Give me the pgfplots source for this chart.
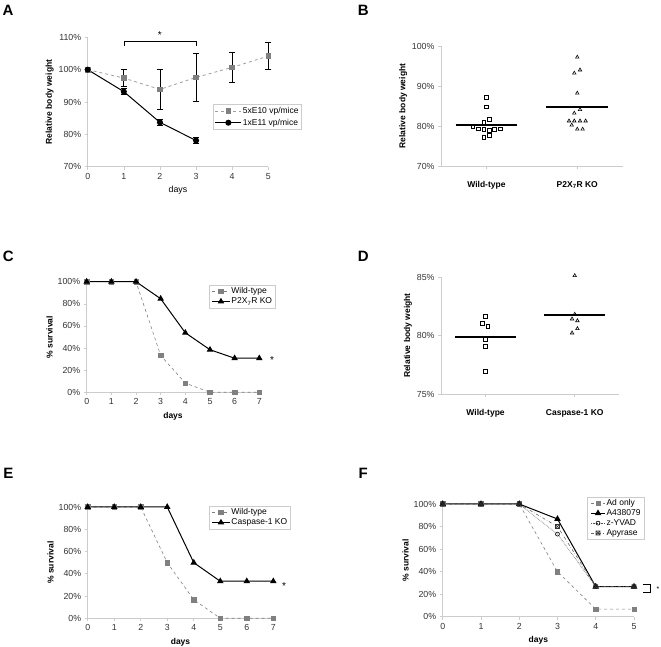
\documentclass[border=0pt]{standalone}
\usepackage{pgfplots}
\pgfplotsset{compat=1.18}
\usepackage{fontspec}
\setmainfont{Liberation Sans}
\definecolor{mgray}{gray}{0.5}
\definecolor{lgray}{gray}{0.62}
\definecolor{axgray}{gray}{0.8}
\pgfdeclareplotmark{boxx}{%
  \pgfpathrectangle{\pgfpoint{-\pgfplotmarksize}{-\pgfplotmarksize}}{\pgfpoint{2\pgfplotmarksize}{2\pgfplotmarksize}}%
  \pgfpathmoveto{\pgfpoint{-\pgfplotmarksize}{-\pgfplotmarksize}}\pgfpathlineto{\pgfpoint{\pgfplotmarksize}{\pgfplotmarksize}}%
  \pgfpathmoveto{\pgfpoint{-\pgfplotmarksize}{\pgfplotmarksize}}\pgfpathlineto{\pgfpoint{\pgfplotmarksize}{-\pgfplotmarksize}}%
  \pgfusepathqstroke}
\pgfplotsset{
  panel/.style={
    scale only axis, anchor=south west,
    axis x line*=bottom, axis y line*=left,
    axis line style={draw=axgray, line width=0.7pt},
    tick style={draw=axgray, line width=0.6pt},
    tick align=outside, major tick length=3pt,
    tick label style={font=\fontsize{8.8}{10}\selectfont, text=black!80},
    label style={font=\fontsize{8.5}{10}\selectfont\bfseries},
    ylabel style={yshift=-2pt},
    /pgf/number format/assume math mode=true,
    clip=false,
    legend cell align=left,
    legend style={draw=axgray, fill=white, font=\fontsize{8.5}{10}\selectfont, inner xsep=2pt, inner ysep=1.5pt, row sep=0.5pt, nodes={inner sep=1pt}},
  },
  legimg/.style={legend image code/.code={\draw[mark repeat=2,mark phase=2,##1] plot coordinates {(0pt,0pt) (#1,0pt) (2*#1,0pt)};}},
}
\begin{document}
\begin{tikzpicture}
\path[use as bounding box] (0,0) rectangle (661pt,647pt);
% panel labels
\foreach \l/\x/\y in {A/8/637, B/363.3/637, C/8.3/390.3, D/363.3/390.3, E/8.3/173.7, F/363.3/173.7}
  \node[font=\fontsize{15}{15}\selectfont\bfseries] at (\x pt,\y pt) {\l};

% ---------------- A ----------------
\begin{axis}[panel, at={(87.7pt,480.3pt)}, width=180.6pt, height=129.4pt,
  xmin=0, xmax=5, ymin=70, ymax=110, xtick={0,...,5},
  ytick={70,80,90,100,110}, yticklabels={70\%,80\%,90\%,100\%,110\%},
  xlabel={days}, xlabel style={font=\fontsize{8.8}{10}\selectfont\mdseries},
  ylabel={Relative body weight}, legimg=13pt,
  legend style={at={(axis description cs:0.692,0.4845)}, anchor=north west, inner xsep=2pt, inner ysep=2pt, row sep=2pt}]
\addplot[lgray, dashed, line width=0.8pt, mark=square*, mark size=2.3pt, mark options={solid, mgray},
  error bars/.cd, y dir=both, y explicit, error bar style={black, solid, line width=0.8pt},
  error mark options={rotate=90, mark size=3pt, black, line width=0.8pt}]
  coordinates {(0,100) +- (0,0) (1,97.4) +- (0,2.7) (2,93.9) +- (0,6.1) (3,97.6) +- (0,7.5) (4,100.7) +- (0,4.5) (5,104.2) +- (0,4.2)};
\addlegendentry{5xE10 vp/mice}
\addplot[black, line width=1pt, mark=*, mark size=2.5pt,
  error bars/.cd, y dir=both, y explicit, error bar style={black, line width=0.8pt},
  error mark options={rotate=90, mark size=3pt, black, line width=0.8pt}]
  coordinates {(0,100) +- (0,0.3) (1,93.2) +- (0,1.0) (2,83.7) +- (0,0.8) (3,78.1) +- (0,0.9)};
\addlegendentry{1xE11 vp/mice}
\draw[black, line width=0.6pt] (axis cs:1,107.4) -- (axis cs:1,108.7) -- (axis cs:3,108.7) -- (axis cs:3,107.4);
\node[font=\fontsize{10}{10}\selectfont, anchor=south] at (axis cs:2,108.6) {*};
\end{axis}

% ---------------- B ----------------
\begin{axis}[panel, at={(441pt,481pt)}, width=181.7pt, height=120pt,
  xmin=0.5, xmax=2.5, ymin=70, ymax=100, xtick={1,2},
  xticklabels={Wild-type, P2X\textsubscript{7}R KO},
  xticklabel style={font=\fontsize{8.5}{10}\selectfont\bfseries, text=black, yshift=-9pt},
  ytick={70,80,90,100}, yticklabels={70\%,80\%,90\%,100\%},
  ylabel={Relative body weight}]
\addplot[only marks, mark=square, mark size=1.9pt, mark options={black, fill=white, line width=0.6pt}]
  coordinates {(1.000,87.2) (1.000,84.8) (1.033,81.75) (0.970,80.9) (0.850,80.0) (0.909,79.3) (0.970,79.2) (1.033,79.0) (1.091,79.2) (1.153,79.3) (1.033,77.7) (0.970,77.1)};
\addplot[only marks, mark=triangle, mark size=2pt, mark options={black, line width=0.6pt}]
  coordinates {(2,97.2) (1.967,93.2) (2.03,94.0) (2,88.2) (1.967,83.2) (2.03,84.1) (1.909,81.25) (1.967,81.25) (2.03,81.25) (2.092,81.25) (1.939,80.2) (2,79.2) (2.059,79.2)};
\addplot[black, line width=1.6pt] coordinates {(0.66,80.3) (1.34,80.3)};
\addplot[black, line width=1.6pt] coordinates {(1.66,84.8) (2.34,84.8)};
\end{axis}

% ---------------- C ----------------
\begin{axis}[panel, at={(86.7pt,254.7pt)}, width=172.6pt, height=110.6pt,
  xmin=0, xmax=7, ymin=0, ymax=100, xtick={0,...,7},
  ytick={0,20,40,60,80,100}, yticklabels={0\%,20\%,40\%,60\%,80\%,100\%},
  xlabel={days}, ylabel={\% survival}, legimg=9pt,
  legend style={at={(axis description cs:0.710,0.970)}, anchor=north west}]
\addplot[mgray, dashed, line width=0.6pt, mark=square*, mark size=2.2pt, mark options={solid}]
  coordinates {(0,100) (1,100) (2,100) (3,33.3) (4,8.3) (5,0) (6,0) (7,0)};
\addlegendentry{Wild-type}
\addplot[black, line width=1pt, mark=triangle*, mark size=2.8pt]
  coordinates {(0,100) (1,100) (2,100) (3,84.6) (4,53.8) (5,38.5) (6,30.8) (7,30.8)};
\addlegendentry{P2X\textsubscript{7}R KO}
\node[font=\fontsize{10}{10}\selectfont, anchor=west] at (axis cs:7.3,29) {*};
\end{axis}

% ---------------- D ----------------
\begin{axis}[panel, at={(441pt,253pt)}, width=178.3pt, height=116.7pt,
  xmin=0.5, xmax=2.5, ymin=75, ymax=85, xtick={1,2},
  xticklabels={Wild-type, Caspase-1 KO},
  xticklabel style={font=\fontsize{8.5}{10}\selectfont\bfseries, text=black, yshift=-9pt},
  ytick={75,80,85}, yticklabels={75\%,80\%,85\%},
  ylabel={Relative body weight}]
\addplot[only marks, mark=square, mark size=1.9pt, mark options={black, fill=white, line width=0.6pt}]
  coordinates {(1,81.68) (0.962,81.03) (1.026,80.83) (1,79.69) (1,79.11) (1,76.97)};
\addplot[only marks, mark=triangle, mark size=2pt, mark options={black, line width=0.6pt}]
  coordinates {(2,85.14) (2,81.83) (1.97,81.43) (2.03,81.28) (2.03,80.6) (1.97,80.23)};
\addplot[black, line width=1.6pt] coordinates {(0.66,79.86) (1.34,79.86)};
\addplot[black, line width=1.6pt] coordinates {(1.655,81.77) (2.345,81.77)};
\end{axis}

% ---------------- E ----------------
\begin{axis}[panel, at={(87.7pt,28.7pt)}, width=185.6pt, height=111.3pt,
  xmin=0, xmax=7, ymin=0, ymax=100, xtick={0,...,7},
  ytick={0,20,40,60,80,100}, yticklabels={0\%,20\%,40\%,60\%,80\%,100\%},
  xlabel={days}, ylabel={\% survival}, legimg=9pt,
  legend style={at={(axis description cs:0.655,1.009)}, anchor=north west}]
\addplot[mgray, dashed, line width=0.6pt, mark=square*, mark size=2.2pt, mark options={solid}]
  coordinates {(0,100) (1,100) (2,100) (3,50) (4,16.7) (5,0) (6,0) (7,0)};
\addlegendentry{Wild-type}
\addplot[black, line width=1pt, mark=triangle*, mark size=2.8pt]
  coordinates {(0,100) (1,100) (2,100) (3,100) (4,50) (5,33.3) (6,33.3) (7,33.3)};
\addlegendentry{Caspase-1 KO}
\node[font=\fontsize{10}{10}\selectfont, anchor=west] at (axis cs:7.2,29) {*};
\end{axis}

% ---------------- F ----------------
\begin{axis}[panel, at={(442.7pt,30.3pt)}, width=191.3pt, height=112.7pt,
  xmin=0, xmax=5, ymin=0, ymax=100, xtick={0,...,5},
  ytick={0,20,40,60,80,100}, yticklabels={0\%,20\%,40\%,60\%,80\%,100\%},
  xlabel={days}, ylabel={\% survival}, legimg=7pt,
  legend style={at={(axis description cs:0.756,1.065)}, anchor=north west, inner xsep=3pt}]
\addplot[mgray, dashed, line width=0.6pt, mark=square*, mark size=2.2pt, mark options={solid}]
  coordinates {(0,100) (1,100) (2,100) (3,40) (4,6.7) (5,6.7)};
\addlegendentry{Ad only}
\addplot[black, line width=1pt, mark=triangle*, mark size=2.8pt]
  coordinates {(0,100) (1,100) (2,100) (3,86.7) (4,26.7) (5,26.7)};
\addlegendentry{A438079}
\addplot[black!70, densely dotted, line width=0.6pt, mark=o, mark size=2pt, mark options={solid, black}]
  coordinates {(0,100) (1,100) (2,100) (3,73.3) (4,26.7) (5,26.7)};
\addlegendentry{z-YVAD}
\addplot[black!60, dash dot, line width=0.6pt, mark=boxx, mark size=2pt, mark options={solid, black!80}]
  coordinates {(0,100) (1,100) (2,100) (3,80) (4,26.7) (5,26.7)};
\addlegendentry{Apyrase}
\draw[black, line width=0.5pt] (axis cs:5.23,29) -- (axis cs:5.42,29) -- (axis cs:5.42,21.3) -- (axis cs:5.23,21.3);
\node[font=\fontsize{7}{7}\selectfont, anchor=west] at (axis cs:5.5,24.5) {*};
\end{axis}
\end{tikzpicture}
\end{document}
